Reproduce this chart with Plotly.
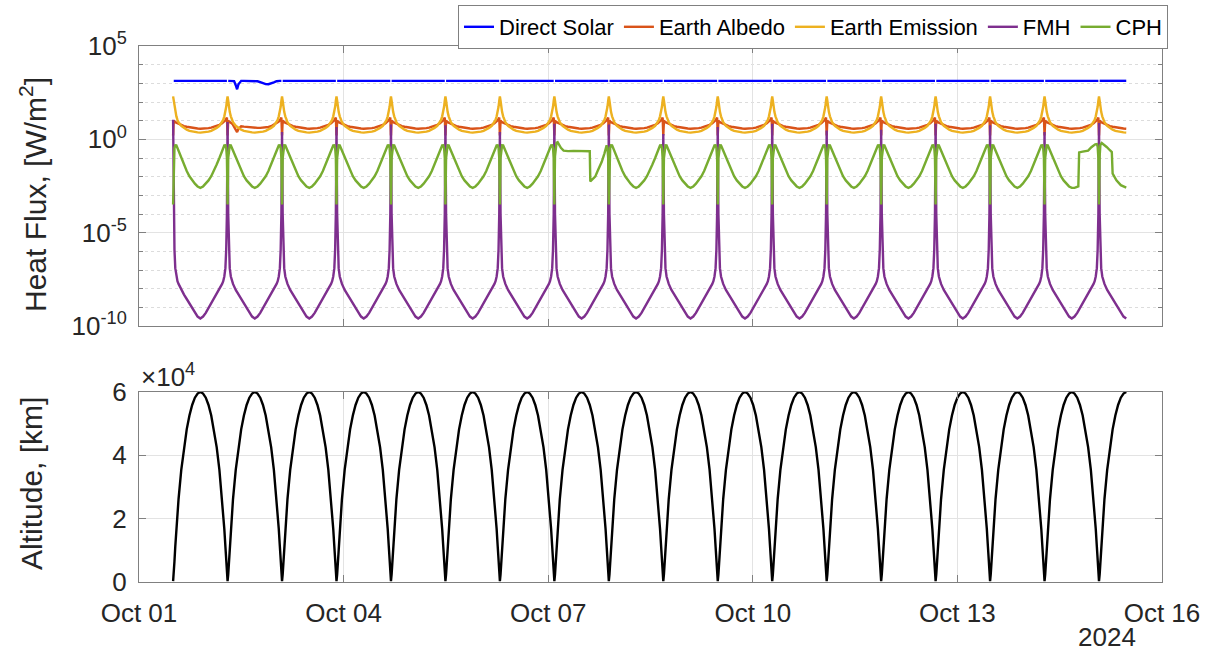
import pandas as pd
import plotly.graph_objects as go

# ---------------------------------------------------------------------------
# Orbit timing (UTC perigee passes) and orbital period
# ---------------------------------------------------------------------------
perigee_times = [
    "2024-10-01 12:00", "2024-10-02 07:10", "2024-10-03 02:20", "2024-10-03 21:30",
    "2024-10-04 16:40", "2024-10-05 11:50", "2024-10-06 07:00", "2024-10-07 02:10",
    "2024-10-07 21:20", "2024-10-08 16:30", "2024-10-09 11:40", "2024-10-10 06:50",
    "2024-10-11 02:00", "2024-10-11 21:10", "2024-10-12 16:20", "2024-10-13 11:30",
    "2024-10-14 06:40", "2024-10-15 01:50",
]
period_hours = 19.17
last_phase = 0.5  # simulation ends near the final apogee

# Sample points through one orbit (fraction of period, perigee = 0)
orbit_phase = [0.0, 0.012, 0.025, 0.04, 0.06, 0.08, 0.1, 0.15, 0.2, 0.25, 0.3, 0.35,
               0.4, 0.45, 0.5, 0.55, 0.6, 0.65, 0.7, 0.75, 0.8, 0.85, 0.9, 0.92,
               0.94, 0.96, 0.975, 0.988]

# Altitude over one orbit [km]
altitude_km = [300, 2400, 6500, 11200, 16800, 21800, 26200, 35400, 42600, 48200,
               52600, 55900, 58200, 59500, 60000, 59500, 58200, 55900, 52600, 48200,
               42600, 35400, 26200, 21800, 16800, 11200, 6500, 2400]

# Heat flux components over one orbit [W/m^2]; None = in Earth's shadow
direct_solar = [None, 1361, 1361, 1361, 1361, 1361, 1361, 1361, 1361, 1361, 1361, 1361,
                1361, 1361, 1361, 1361, 1361, 1361, 1361, 1361, 1361, 1361, 1361, 1361,
                1361, 1361, 1361, 1361]
earth_albedo = [1.6, 10.0, 9.1, 8.3, 7.8, 7.2, 6.6, 5.75, 5.1, 4.7, 4.35, 4.1, 3.9,
                3.8, 3.7, 3.7, 3.8, 4.0, 4.25, 4.7, 5.25, 6.0, 7.2, 7.9, 8.9, 10.5,
                12.6, 14.8]
earth_emission = [200, 118, 55, 29.5, 17, 11.0, 8.2, 5.3, 4.1, 3.3, 2.85, 2.6, 2.45,
                  2.35, 2.3, 2.35, 2.45, 2.6, 2.85, 3.3, 4.1, 5.3, 8.2, 11.0, 17, 29.5,
                  55, 118]
fmh = [10.0, 1e-4, 1.26e-6, 1.26e-7, 4.5e-8, 2.5e-8, 1.8e-8, 8.5e-9, 4.8e-9, 2.8e-9,
       1.6e-9, 8.9e-10, 5.0e-10, 3.2e-10, 2.5e-10, 3.2e-10, 5.0e-10, 8.9e-10, 1.6e-9,
       2.8e-9, 4.8e-9, 8.5e-9, 1.8e-8, 2.5e-8, 4.5e-8, 1.26e-7, 1.26e-6, 1e-4]
cph = [3.2e-4, 0.1, 0.35, 0.48, 0.47, 0.34, 0.24, 0.1, 0.045, 0.02, 0.0105, 0.0063,
       0.0042, 0.003, 0.0025, 0.003, 0.0042, 0.0063, 0.0105, 0.02, 0.045, 0.1, 0.24,
       0.34, 0.47, 0.48, 0.35, 0.1]

# FMH peak at each perigee pass [W/m^2]
fmh_perigee = [11.2, 8.5, 2.5, 4.6, 6.3, 5.6, 2.5, 6.9, 6.2, 1.9, 4.6, 6.9, 3.0, 3.3,
               6.9, 5.6, 2.5, 7.4]

# Orbit 2: lunar shadow passage (solar and albedo)
eclipse_orbit = 1
eclipse_phase = [0.0, 0.012, 0.025, 0.04, 0.06, 0.08, 0.1, 0.12, 0.15, 0.175, 0.2, 0.23,
                 0.25, 0.3, 0.35, 0.4, 0.45, 0.5, 0.55, 0.6, 0.65, 0.7, 0.75, 0.8, 0.85,
                 0.9, 0.92, 0.94, 0.96, 0.975, 0.988]
eclipse_solar = [None, 1361, 1361, 1361, 1361, 1361, 1361, 1320, 795, 480, 890, 1260,
                 1361, 1361, 1361, 1361, 1361, 1361, 1290, 1150, 1000, 910, 900, 980,
                 1130, 1300, 1361, 1361, 1361, 1361, 1361]
eclipse_albedo = [1.6, 10.0, 9.1, 8.5, 7.9, 7.1, 6.0, 4.5, 3.2, 2.45, 3.55, 4.8, 5.0,
                  4.8, 4.6, 4.8, 4.6, 4.3, 4.1, 4.1, 4.2, 4.3, 4.6, 5.0, 6.0, 7.2, 7.9,
                  8.9, 10.5, 12.6, 14.8]

# CPH on orbits with attitude changes
cph_orbit8_phase = [0.0, 0.012, 0.025, 0.04, 0.06, 0.08, 0.12, 0.17, 0.25, 0.35, 0.45,
                    0.55, 0.65, 0.66, 0.7, 0.75, 0.8, 0.87, 0.92, 0.94, 0.96, 0.975, 0.988]
cph_orbit8 = [3.2e-4, 0.126, 0.5, 0.66, 0.71, 0.56, 0.35, 0.25, 0.234, 0.24, 0.234,
              0.234, 0.229, 0.0056, 0.0071, 0.01, 0.022, 0.063, 0.178, 0.3, 0.48, 0.35, 0.1]
cph_orbit17_phase = [0.0, 0.012, 0.025, 0.04, 0.06, 0.08, 0.1, 0.15, 0.2, 0.25, 0.3, 0.35,
                     0.4, 0.45, 0.5, 0.55, 0.62, 0.635, 0.7, 0.8, 0.86, 0.9, 0.93, 0.96,
                     0.975, 0.988]
cph_orbit17 = [3.2e-4, 0.1, 0.35, 0.48, 0.47, 0.34, 0.24, 0.1, 0.045, 0.02, 0.0105,
               0.0063, 0.0042, 0.003, 0.0025, 0.0025, 0.003, 0.2, 0.22, 0.25, 0.38, 0.48,
               0.54, 0.56, 0.4, 0.1]
cph_orbit18_phase = [0.0, 0.012, 0.025, 0.05, 0.1, 0.14, 0.2, 0.235, 0.25, 0.32, 0.4,
                     0.45, 0.5]
cph_orbit18 = [3.2e-4, 0.126, 0.5, 0.63, 0.5, 0.39, 0.26, 0.21, 0.0145, 0.0063, 0.0035,
               0.003, 0.0026]

# Axis ticks
date_ticks = ["2024-10-01", "2024-10-04", "2024-10-07", "2024-10-10", "2024-10-13",
              "2024-10-16"]
date_labels = ["Oct 01", "Oct 04", "Oct 07", "Oct 10", "Oct 13", "Oct 16"]
flux_ticks = [1e-10, 1e-5, 1, 1e5]
flux_labels = ["10<sup>-10</sup>", "10<sup>-5</sup>", "10<sup>0</sup>", "10<sup>5</sup>"]
flux_minor = [1e-9, 1e-8, 1e-7, 1e-6, 1e-4, 1e-3, 1e-2, 1e-1, 1e1, 1e2, 1e3, 1e4]
alt_ticks = [0, 20000, 40000, 60000]
alt_labels = ["0", "2", "4", "6"]

series_names = ["Direct Solar", "Earth Albedo", "Earth Emission", "FMH", "CPH"]
series_colors = ["#0000FF", "#D95319", "#EDB120", "#7E2F8E", "#77AC30"]

# ---------------------------------------------------------------------------
perigees = [pd.Timestamp(t) for t in perigee_times]
period = pd.Timedelta(hours=period_hours)


def time_series(profile, overrides=None, perigee_values=None):
    """Lay an orbit profile over every orbit, with per-orbit replacements."""
    xs, ys = [], []
    n = len(perigees)
    for k, t0 in enumerate(perigees):
        phases, vals = orbit_phase, list(profile)
        if overrides and k in overrides:
            phases, vals = overrides[k]
            vals = list(vals)
        if perigee_values is not None:
            vals[0] = perigee_values[k]
        for p, v in zip(phases, vals):
            if k == n - 1 and p > last_phase:
                break
            xs.append(t0 + p * period)
            ys.append(v)
    return xs, ys


flux_series = [
    time_series(direct_solar, {eclipse_orbit: (eclipse_phase, eclipse_solar)}),
    time_series(earth_albedo, {eclipse_orbit: (eclipse_phase, eclipse_albedo)}),
    time_series(earth_emission),
    time_series(fmh, perigee_values=fmh_perigee),
    time_series(cph, {7: (cph_orbit8_phase, cph_orbit8),
                      16: (cph_orbit17_phase, cph_orbit17),
                      17: (cph_orbit18_phase, cph_orbit18)}),
]
alt_x, alt_y = time_series(altitude_km)

fig = go.Figure()
for (x, y), name, color in zip(flux_series, series_names, series_colors):
    fig.add_trace(go.Scatter(x=x, y=y, mode="lines", name=name,
                             line=dict(color=color, width=2.4),
                             connectgaps=False, xaxis="x", yaxis="y"))
fig.add_trace(go.Scatter(x=alt_x, y=alt_y, mode="lines", showlegend=False,
                         line=dict(color="black", width=2.4),
                         xaxis="x2", yaxis="y2"))

FONT = "Liberation Sans, Arial, Helvetica, sans-serif"
TXT = "#262626"
AXC = "#808080"
GRID = "#e3e3e3"

x_common = dict(
    type="date", range=["2024-10-01", "2024-10-16"],
    tickmode="array", tickvals=date_ticks, ticktext=date_labels,
    showline=True, linecolor=AXC, linewidth=1, mirror="ticks",
    ticks="inside", ticklen=7, tickcolor=AXC,
    showgrid=True, gridcolor=GRID, gridwidth=1, zeroline=False,
    tickfont=dict(family=FONT, size=26, color=TXT),
)

top_dom = [(582 - 326) / 536, 1.0]
bot_dom = [0.0, (582 - 392) / 536]

fig.update_layout(
    width=1213, height=656,
    margin=dict(l=139, r=51, t=46, b=74, autoexpand=False),
    paper_bgcolor="white", plot_bgcolor="white",
    font=dict(family=FONT, color=TXT, size=24),
    xaxis=dict(**x_common, domain=[0, 1], anchor="y", showticklabels=False),
    xaxis2=dict(**x_common, domain=[0, 1], anchor="y2", ticklabelstandoff=8),
    yaxis=dict(
        type="log", range=[-10, 5], domain=top_dom, anchor="x",
        tickmode="array", tickvals=flux_ticks, ticktext=flux_labels,
        showline=True, linecolor=AXC, linewidth=1, mirror="ticks",
        ticks="inside", ticklen=7, tickcolor=AXC,
        showgrid=True, gridcolor=GRID, zeroline=False,
        tickfont=dict(family=FONT, size=26, color=TXT), ticklabelstandoff=6,
        minor=dict(tickmode="array", tickvals=flux_minor, ticks="inside", ticklen=4,
                   tickcolor=AXC, showgrid=True, gridcolor="#dcdcdc", griddash="dot"),
    ),
    yaxis2=dict(
        range=[0, 60000], domain=bot_dom, anchor="x2",
        tickmode="array", tickvals=alt_ticks, ticktext=alt_labels,
        showline=True, linecolor=AXC, linewidth=1, mirror="ticks",
        ticks="inside", ticklen=7, tickcolor=AXC,
        showgrid=True, gridcolor=GRID, zeroline=False,
        tickfont=dict(family=FONT, size=26, color=TXT), ticklabelstandoff=6,
    ),
    showlegend=True,
    legend=dict(
        orientation="h", x=(1168 - 139) / 1023, xanchor="right",
        y=1 + (46 - 5) / 536, yanchor="top",
        bgcolor="white", bordercolor=AXC, borderwidth=1,
        font=dict(family=FONT, size=22, color="black"),
        itemwidth=30, tracegroupgap=0,
    ),
    annotations=[
        dict(text="Heat Flux, [W/m<sup>2</sup>]", textangle=-90,
             x=(33 - 139) / 1023, y=(582 - 195) / 536, xref="paper", yref="paper",
             xanchor="center", yanchor="middle", showarrow=False,
             font=dict(family=FONT, size=30, color=TXT)),
        dict(text="Altitude, [km]", textangle=-90,
             x=(31 - 139) / 1023, y=(582 - 484) / 536, xref="paper", yref="paper",
             xanchor="center", yanchor="middle", showarrow=False,
             font=dict(family=FONT, size=30, color=TXT)),
        dict(text="\u00d710<sup>4</sup>", x=0, y=bot_dom[1], xref="paper", yref="paper",
             xanchor="left", yanchor="bottom", yshift=-2, showarrow=False,
             font=dict(family=FONT, size=26, color=TXT)),
        dict(text="2024", x=(1107 - 139) / 1023, y=(582 - 637) / 536,
             xref="paper", yref="paper", xanchor="center", yanchor="middle",
             showarrow=False, font=dict(family=FONT, size=26, color=TXT)),
    ],
)

fig.write_html("out.html")
